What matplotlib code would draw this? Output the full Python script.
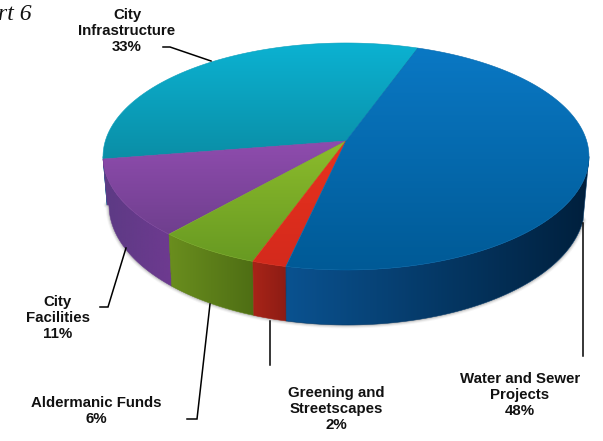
import numpy as np
import matplotlib
matplotlib.use("Agg")
import matplotlib.pyplot as plt
from matplotlib.colors import LinearSegmentedColormap
from matplotlib.patches import Polygon

# =============================
# Data
# =============================
categories = ["City\nInfrastructure", "City\nFacilities", "Aldermanic Funds",
              "Greening and\nStreetscapes", "Water and Sewer\nProjects"]
shares = [33, 11, 6, 2, 48]
start_angle = 70.3

top_colors = [("#0cb2d2", "#0a8ea6"), ("#8f4cae", "#6f3f8e"), ("#8cbc2c", "#689a22"),
              ("#e8321e", "#d42a1c"), ("#0a78c4", "#005a96")]
wall_colors = [("#0a8ea6", "#0a8ea6"), ("#5c3a84", "#6e3a90"), ("#6a8e1e", "#4e6e14"),
               ("#a82418", "#8c1c14"), ("#0a5290", "#001f3c")]

# =============================
# Tilted disc geometry (pixel coordinates)
# =============================
W, H = 603, 441
apex_x, apex_y = 346, 141
A, B, k = 240.7, 111.4, 0.1366
low_cx, low_cy, low_rx, low_ry = 347, 205, 238, 120


def top_point(theta):
    c, s = np.cos(theta), np.sin(theta)
    w = 1 + k * s
    return apex_x + A * c / w, apex_y - B * s / w


def low_point(theta):
    # same angle on the underside of the disc, dropped straight down from the rim
    px, _ = top_point(theta)
    xb = low_cx + (px - 348) * low_rx / 243
    return xb, low_cy + low_ry * np.sqrt(np.clip(1 - ((xb - low_cx) / low_rx) ** 2, 0, 1))


def fill_gradient(ax, poly_xy, c0, c1, horizontal=False, zorder=2):
    cmap = LinearSegmentedColormap.from_list("g", [c0, c1])
    xs, ys = poly_xy[:, 0], poly_xy[:, 1]
    grad = np.linspace(0, 1, 256)
    grad = grad.reshape(1, -1) if horizontal else grad.reshape(-1, 1)
    img = ax.imshow(grad, cmap=cmap, aspect="auto", zorder=zorder, interpolation="bilinear",
                    extent=(xs.min(), xs.max(), ys.max(), ys.min()))
    patch = Polygon(poly_xy, closed=True, facecolor="none", edgecolor="none", transform=ax.transData)
    ax.add_patch(patch)
    img.set_clip_path(patch)
    # hairline of the mid colour hides the clipping seam
    ax.add_patch(Polygon(poly_xy, closed=True, facecolor="none", zorder=zorder,
                         edgecolor=LinearSegmentedColormap.from_list("m", [c0, c1])(0.5), lw=0.4))


fig = plt.figure(figsize=(W / 100, H / 100), dpi=100)
ax = fig.add_axes([0, 0, 1, 1])
ax.set_xlim(0, W)
ax.set_ylim(H, 0)
ax.axis("off")

edges = start_angle + 3.6 * np.cumsum([0] + shares)
wall_lo, wall_hi = 187.85, 352.15

# soft shadow round the underside
sh = np.radians(np.linspace(wall_lo, wall_hi, 200))
sx, sy = zip(*[low_point(t) for t in sh])
for lw, alpha in [(5, 0.06), (3.5, 0.1), (2, 0.18)]:
    ax.plot(sx, sy, color="#555555", lw=lw, alpha=alpha, zorder=1, solid_capstyle="round")

# =============================
# Side wall and top face of each slice
# =============================
for i in range(len(shares)):
    a0, a1 = edges[i], edges[i + 1]
    lo, hi = max(a0, wall_lo), min(a1, wall_hi)
    if hi > lo:
        t = np.radians(np.linspace(lo, hi, 80))
        top = np.array([top_point(v) for v in t])
        low = np.array([low_point(v) for v in t])
        fill_gradient(ax, np.vstack([top, low[::-1]]), *wall_colors[i], horizontal=True)

for i in range(len(shares)):
    t = np.radians(np.linspace(edges[i], edges[i + 1], 120))
    rim = np.array([top_point(v) for v in t])
    poly = np.vstack([[apex_x, apex_y], rim])
    fill_gradient(ax, poly, *top_colors[i], zorder=3)

# =============================
# Leader lines
# =============================
leaders = [([163, 170, 211], [47, 47, 61]),
           ([100, 108, 126], [307, 307, 248]),
           ([187, 197, 210], [419, 419, 304]),
           ([270, 270], [321, 365]),
           ([583, 583], [223, 356])]
for lx, ly in leaders:
    ax.plot(lx, ly, color="black", lw=1.1, zorder=4, solid_joinstyle="miter")

# =============================
# Labels
# =============================
label_pos = [(127, 31), (58, 318), (96, 411), (336, 409), (520, 395)]
for name, share, (x, y) in zip(categories, shares, label_pos):
    ax.text(x, y, f"{name}\n{share}%", ha="center", va="center", fontsize=10.8,
            fontweight="bold", family="Liberation Sans", color="#111111",
            linespacing=1.2, zorder=5)

ax.text(-2, 14, "rt 6", ha="left", va="center", fontsize=17, style="italic",
        family="Liberation Serif", color="#111111", zorder=5)

fig.savefig("out.png", dpi=100)
